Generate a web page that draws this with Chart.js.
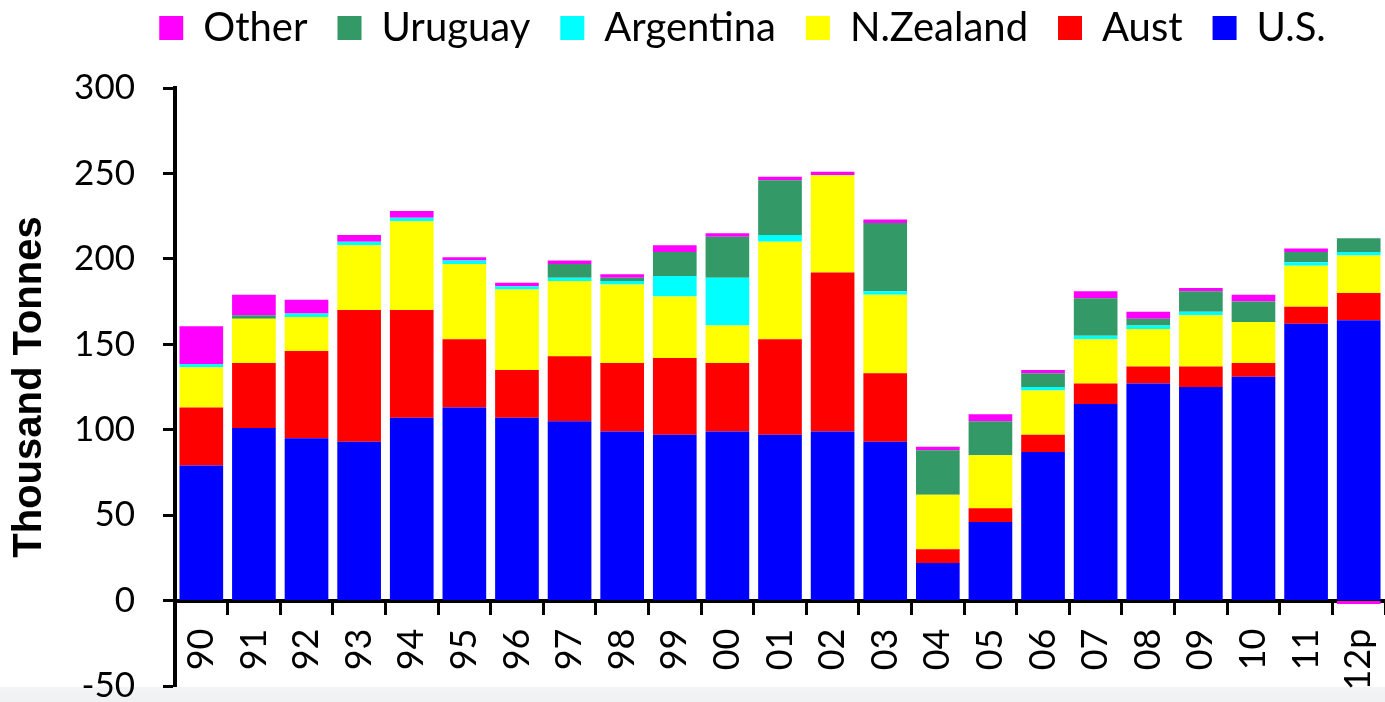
<!DOCTYPE html>
<html>
<head>
<meta charset="utf-8">
<script src="https://cdn.jsdelivr.net/npm/chart.js@4"></script>
<style>
  html, body { margin: 0; padding: 0; background: #fff; }
  #wrap { width: 1385px; height: 702px; }
</style>
</head>
<body>
<div id="wrap"><canvas id="chart"></canvas></div>
<script>
// categories (years)
const years = ['90', '91', '92', '93', '94', '95', '96', '97', '98', '99', '00', '01', '02', '03', '04', '05', '06', '07', '08', '09', '10', '11', '12p'];

// thousand tonnes
const usValues    = [79, 101, 95, 93, 107, 113, 107, 105, 99, 97, 99, 97, 99, 93, 22, 46, 87, 115, 127, 125, 131, 162, 164];
const austValues  = [34, 38, 51, 77, 63, 40, 28, 38, 40, 45, 40, 56, 93, 40, 8, 8, 10, 12, 10, 12, 8, 10, 16];
const nzValues    = [23.5, 26, 20, 38, 52, 44, 47, 44, 46, 36, 22, 57, 57, 46, 32, 31, 26, 26, 22, 30, 24, 24, 22];
const argValues   = [2, 0, 2, 2, 2, 2, 2, 2, 2, 12, 28, 4, 0, 2, 0, 0, 2, 2, 2, 2, 0, 2, 2];
const uruValues   = [0, 2, 0, 0, 0, 0, 0, 8, 2, 14, 24, 32, 0, 40, 26, 20, 8, 22, 4, 12, 12, 6, 8];
const otherValues = [22, 12, 8, 4, 4, 2, 2, 2, 2, 4, 2, 2, 2, 2, 2, 4, 2, 4, 4, 2, 4, 2, -2];

const yTicks = [-50, 0, 50, 100, 150, 200, 250, 300];

const tickFont = "Lato, 'Open Sans', sans-serif";

// legend placement tweaks (the original legend is not centred on the canvas)
const legendShift = { x: 50, y: -22 };
const legendHeight = 88;

const legendTweak = {
    id: 'legendTweak',
    beforeInit(chart) {
        const fit = chart.legend.fit;
        chart.legend.fit = function () {
            fit.bind(chart.legend)();
            this.height = legendHeight;
        };
    },
    afterLayout(chart) {
        const lg = chart.legend;
        lg.left += legendShift.x;
        lg.right += legendShift.x;
        lg.top += legendShift.y;
        lg.bottom += legendShift.y;
    }
};

// faint grey band under the plot like the slide background
const bottomBand = {
    id: 'bottomBand',
    beforeDraw(chart) {
        const { ctx, chartArea, width, height } = chart;
        const g = ctx.createLinearGradient(0, chartArea.bottom, 0, height);
        g.addColorStop(0, '#f3f4f6');
        g.addColorStop(1, '#eff1f3');
        ctx.save();
        ctx.fillStyle = g;
        ctx.fillRect(0, chartArea.bottom + 1, width, height - chartArea.bottom);
        ctx.restore();
    }
};

const ctx = document.getElementById('chart').getContext('2d');
new Chart(ctx, {
    type: 'bar',
    data: {
        labels: years,
        datasets: [
            { label: 'U.S.', data: usValues, backgroundColor: '#0000ff' },
            { label: 'Aust', data: austValues, backgroundColor: '#ff0000' },
            { label: 'N.Zealand', data: nzValues, backgroundColor: '#ffff00' },
            { label: 'Argentina', data: argValues, backgroundColor: '#00ffff' },
            { label: 'Uruguay', data: uruValues, backgroundColor: '#339966' },
            { label: 'Other', data: otherValues, backgroundColor: '#ff00ff' },
        ],
    },
    options: {
        responsive: true,
        maintainAspectRatio: false,
        animation: false,
        layout: { padding: 0 },
        datasets: {
            bar: { categoryPercentage: 1, barPercentage: 0.83, borderWidth: 0 }
        },
        plugins: {
            tooltip: { enabled: false },
            legend: {
                position: 'top',
                reverse: true,
                labels: {
                    boxWidth: 24,
                    boxHeight: 24,
                    padding: 30,
                    color: '#000',
                    font: { family: tickFont, size: 40 },
                },
            },
        },
        scales: {
            x: {
                stacked: true,
                position: { y: 0 },
                afterFit(scale) {
                    scale.height = 0;
                    scale.paddingLeft = 0;
                    scale.paddingRight = 0;
                },
                grid: {
                    display: true,
                    offset: true,
                    drawOnChartArea: false,
                    drawTicks: true,
                    tickLength: 12,
                    tickWidth: 3,
                    tickColor: '#000',
                },
                border: { display: true, color: '#000', width: 4 },
                ticks: {
                    color: '#000',
                    font: { family: tickFont, size: 36 },
                    minRotation: 90,
                    maxRotation: 90,
                    padding: 16,
                    autoSkip: false,
                },
            },
            y: {
                stacked: true,
                min: -50,
                max: 300,
                afterFit(scale) {
                    scale.width = 175;
                    scale.paddingBottom = 16;
                },
                afterBuildTicks(scale) { scale.ticks = yTicks.map(v => ({ value: v })); },
                grid: {
                    drawOnChartArea: false,
                    drawTicks: true,
                    tickLength: 12,
                    tickWidth: 3,
                    tickColor: '#000',
                },
                border: { display: true, color: '#000', width: 4 },
                ticks: {
                    color: '#000',
                    font: { family: tickFont, size: 35 },
                    padding: 28,
                },
                title: {
                    display: true,
                    text: 'Thousand Tonnes',
                    color: '#000',
                    font: { family: "'Liberation Sans', Arial, sans-serif", size: 40, weight: 'bold' },
                    padding: { top: 6, bottom: 0 },
                },
            },
        },
    },
    plugins: [legendTweak, bottomBand],
});
</script>
</body>
</html>
